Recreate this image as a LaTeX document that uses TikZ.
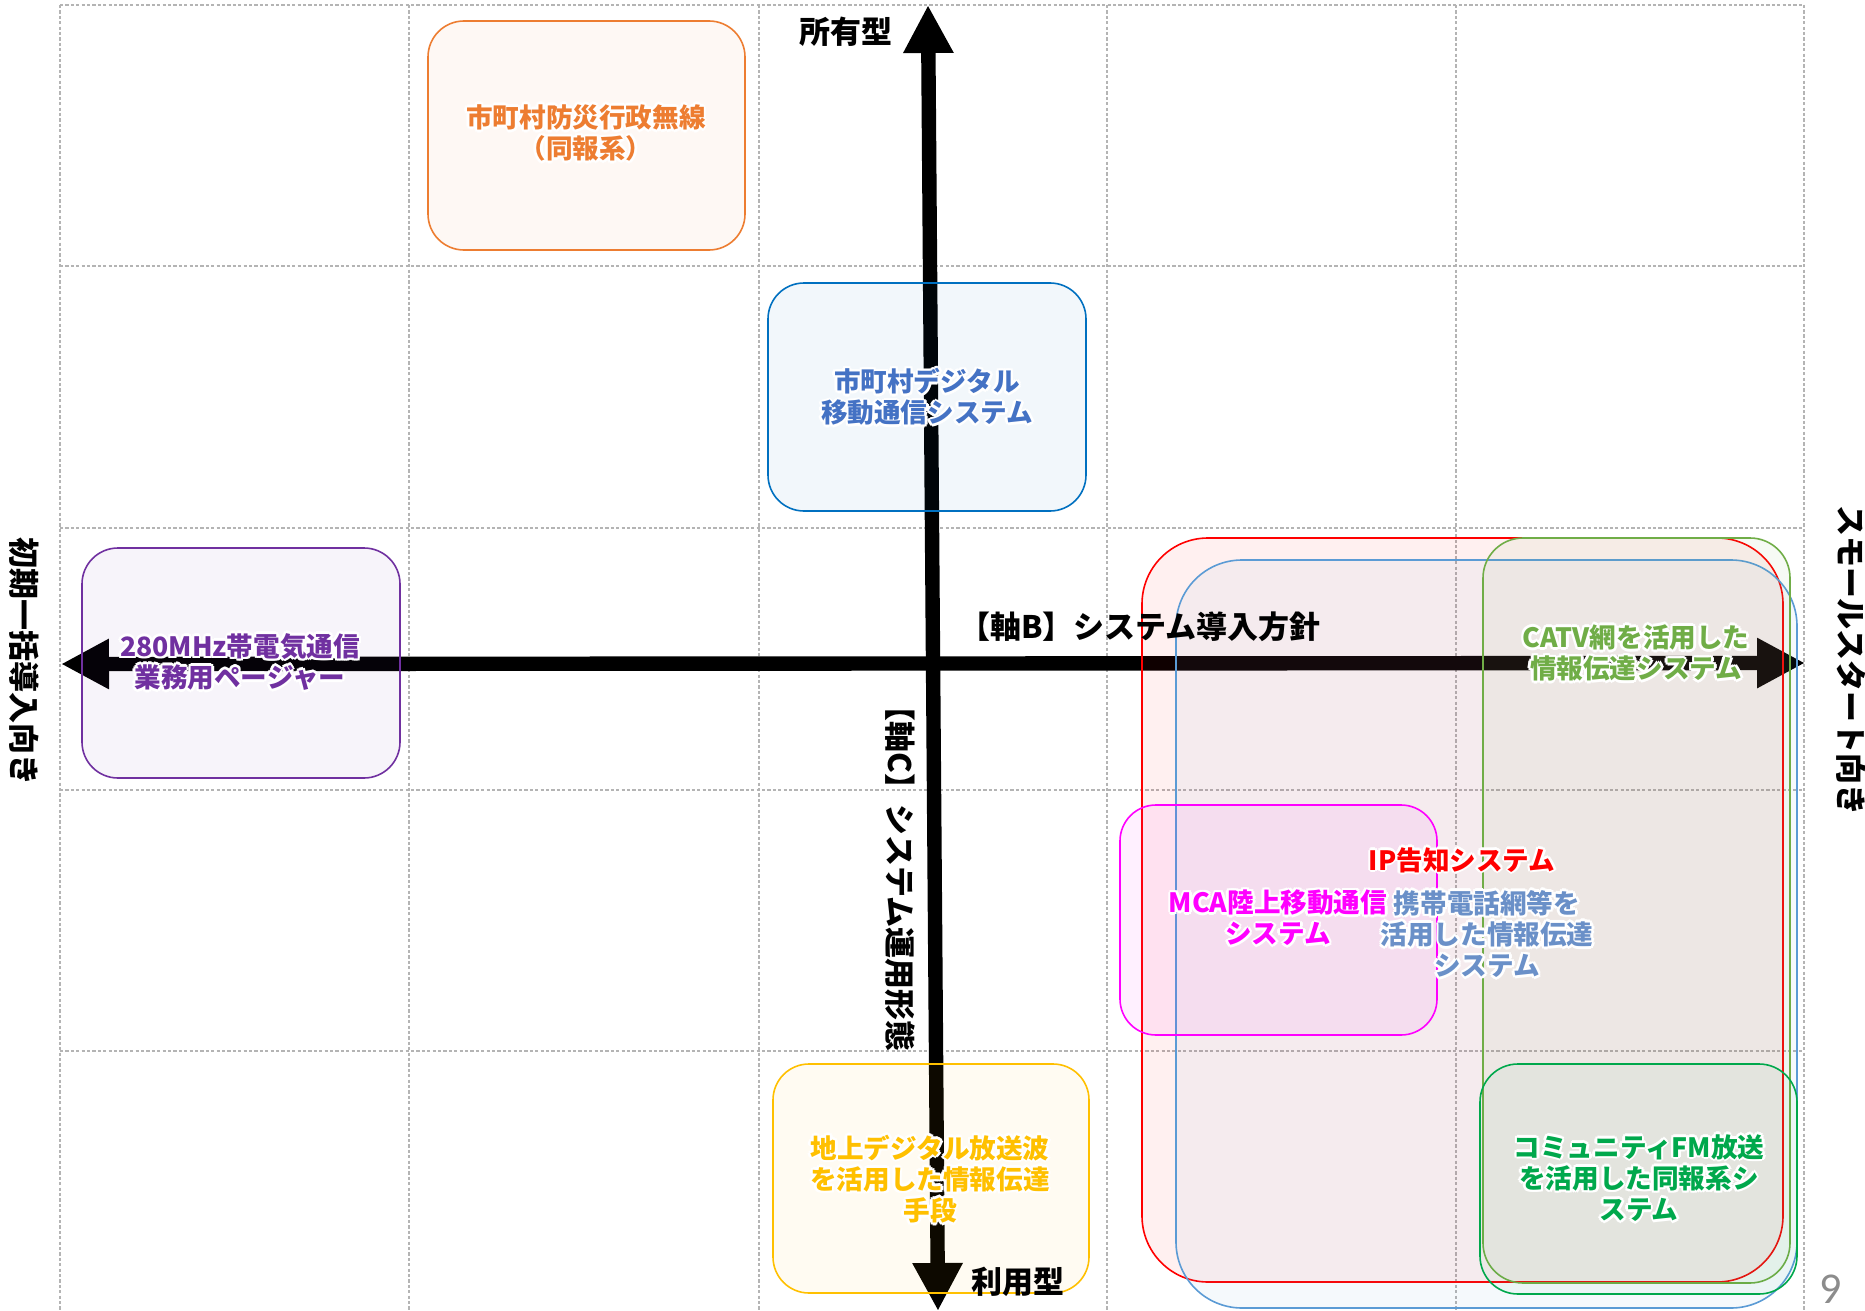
\documentclass[tikz,border=0pt]{standalone}
\usepackage{fontspec}
\setmainfont{Noto Sans CJK JP}
\newfontfamily\numfont{Carlito}
\usetikzlibrary{arrows.meta}
\definecolor{cOrange}{HTML}{ED7D31}
\definecolor{cBlue}{HTML}{0070C0}
\definecolor{cBlueT}{HTML}{4472C4}
\definecolor{cPurple}{HTML}{7030A0}
\definecolor{cYellow}{HTML}{FFC000}
\definecolor{cMag}{HTML}{FF00FF}
\definecolor{cRed}{HTML}{FF0000}
\definecolor{cLBlue}{HTML}{5B9BD5}
\definecolor{cLBlueT}{HTML}{6A90C8}
\definecolor{cCatv}{HTML}{70AD47}
\definecolor{cFM}{HTML}{00A84C}
\definecolor{cGrid}{HTML}{B4B4B4}
\definecolor{cNum}{HTML}{8C8C8C}
\newcommand\rbox[7]{%
  \node[rbox, draw=#6, fill=#6, rounded corners=#7,
        minimum width={(#4-#2)*0.5pt}, minimum height={(#5-#3)*0.5pt}]
        (#1) at ({(#2+#4)/2},{(#3+#5)/2}) {};}
\newcommand\gtext[5]{%
  \foreach \gx/\gy in {1.3/0,-1.3/0,0/1.3,0/-1.3,0.9/0.9,-0.9/0.9,0.9/-0.9,-0.9/-0.9}{%
    \node[boxtxt, text=white, xshift=\gx pt, yshift=\gy pt] at (#2,#3) {#5};}
  \node[boxtxt, text=#4] (#1) at (#2,#3) {#5};}
\begin{document}
\begin{tikzpicture}[x=0.5pt,y=-0.5pt,
  gridline/.style={draw=cGrid, line width=0.6pt, dash pattern=on 1.6pt off 1.1pt},
  axisline/.style={line width=7.2pt, draw=black,
     {Triangle[length=24pt,width=23.5pt]}-{Triangle[length=24pt,width=23.5pt]}},
  rbox/.style={rectangle, inner sep=0pt, outer sep=0pt, line width=0.8pt, fill opacity=0.05},
  boxtxt/.style={align=center, inner sep=0pt, font=\fontsize{13.3}{15.6}\selectfont\bfseries},
  axtxt/.style={inner sep=0pt, text=black, font=\fontsize{15.5}{18}\selectfont\bfseries}]
\useasboundingbox (0,0) rectangle (1865,1311);
\fill[white] (0,0) rectangle (1865,1311);
% grid
\foreach \gxx in {60,409,759,1107,1456,1804}{\draw[gridline] (\gxx,5) -- (\gxx,1311);}
\foreach \gyy in {5,266,528,790,1051}{\draw[gridline] (60,\gyy) -- (1804,\gyy);}
% axes
\coordinate (vtop) at (928,5);
\coordinate (vbot) at (938,1311);
\coordinate (hleft) at (61,664);
\coordinate (hright) at (1805,663);
\draw[axisline] (vbot) -- (vtop);
\draw[axisline] (hleft) -- (hright);
% boxes
\rbox{orangeBox}{428}{21}{745}{250}{cOrange}{18pt}
\rbox{blueBox}{768}{283}{1086}{511}{cBlue}{18pt}
\rbox{purpleBox}{82}{548}{400}{778}{cPurple}{18pt}
\rbox{yellowBox}{773}{1064}{1089}{1293}{cYellow}{18pt}
\begin{scope}[rbox/.append style={fill opacity=0.06}]
\rbox{redBox}{1142}{538}{1783}{1282}{cRed}{33pt}
\rbox{lblueBox}{1176}{560}{1797}{1308}{cLBlue}{33pt}
\rbox{catvBox}{1483}{538}{1790}{1283}{cCatv}{20pt}
\end{scope}
\begin{scope}[rbox/.append style={fill opacity=0.04}]
\rbox{fmBox}{1480}{1064}{1797}{1294}{cFM}{19pt}
\end{scope}
\begin{scope}[rbox/.append style={fill opacity=0.06}]
\rbox{mcaBox}{1120}{805}{1437}{1035}{cMag}{18pt}
\end{scope}
% box texts
\gtext{orangeTxt}{586}{133}{cOrange}{市町村防災行政無線\\（同報系）}
\gtext{blueTxt}{927}{397}{cBlueT}{市町村デジタル\\移動通信システム}
\gtext{purpleTxt}{240}{662}{cPurple}{280MHz帯電気通信\\業務用ページャー}
\gtext{yellowTxt}{930}{1179}{cYellow}{地上デジタル放送波\\を活用した情報伝達\\手段}
\gtext{catvTxt}{1636}{653}{cCatv}{CATV網を活用した\\情報伝達システム}
\gtext{ipTxt}{1462}{860}{cRed}{IP告知システム}
\gtext{mcaTxt}{1278}{918}{cMag}{MCA陸上移動通信\\システム}
\gtext{lblueTxt}{1487}{934}{cLBlueT}{携帯電話網等を\\活用した情報伝達\\システム}
\gtext{fmTxt}{1639}{1178}{cFM}{コミュニティFM放送\\を活用した同報系シ\\ステム}
% axis labels
\node[axtxt] (ownLbl) at (846,32) {所有型};
\node[axtxt] (useLbl) at (1018,1282) {利用型};
\node[axtxt] (axisB) at (1140,627) {【軸B】システム導入方針};
\node[axtxt, rotate=-90] (axisC) at (900,871) {【軸C】システム運用形態};
\node[axtxt, rotate=-90] (leftLbl) at (24,661) {初期一括導入向き};
\node[axtxt, rotate=-90] (rightLbl) at (1851,660) {スモールスタート向き};
\node[inner sep=0pt, text=cNum, font=\numfont\fontsize{22}{24}\selectfont] (pageNum) at (1831,1289) {9};
\end{tikzpicture}
\end{document}
